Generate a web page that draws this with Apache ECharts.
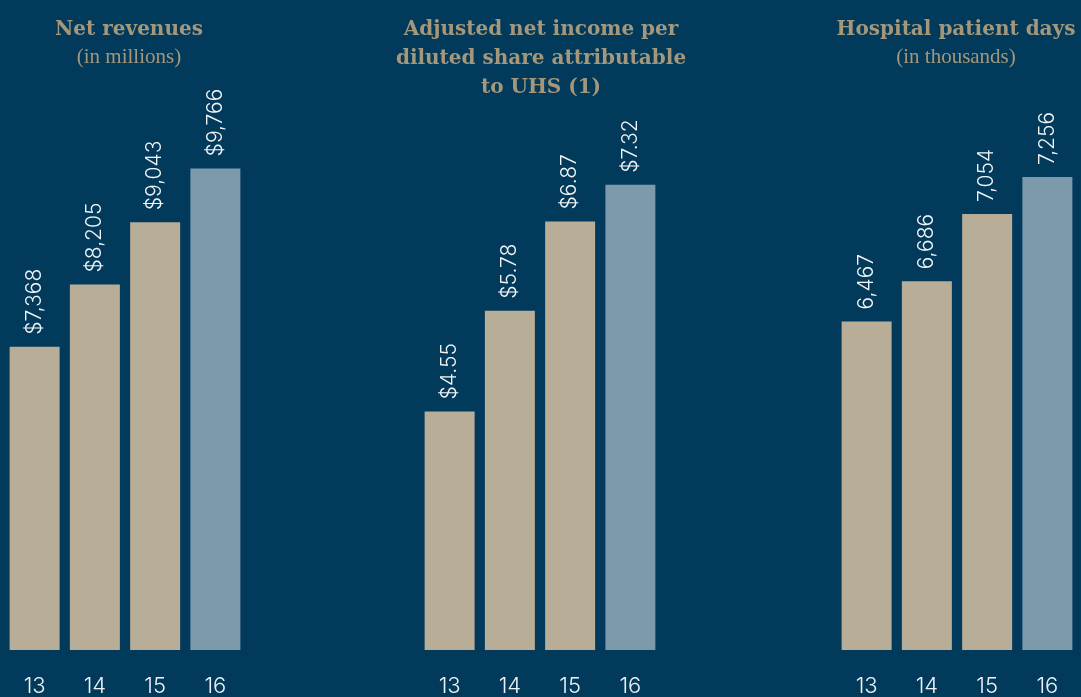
<!DOCTYPE html>
<html><head><meta charset="utf-8">
<script src="https://cdn.jsdelivr.net/npm/echarts@6/dist/echarts.min.js"></script>
<style>html,body{margin:0;padding:0;background:#023a5b;}#c{width:1081px;height:697px;}</style>
</head><body><div id="c"></div>
<script>
const years = ['13','14','15','16'];
const revenues = [7368, 8205, 9043, 9766];
const eps = [4.55, 5.78, 6.87, 7.32];
const patientDays = [6467, 6686, 7054, 7256];
const revLabels = ['$7,368','$8,205','$9,043','$9,766'];
const epsLabels = ['$4.55','$5.78','$6.87','$7.32'];
const daysLabels = ['6,467','6,686','7,054','7,256'];

const BEIGE = '#b8ad97', BLUEGREY = '#7d99ac';
const TITLE = '#a5977a';
const chart = echarts.init(document.getElementById('c'));

const panels = [
  {left: 4.5, min: 3290, max: 10672, data: revenues, labels: revLabels},
  {left: 419.5, min: 1.635, max: 8.342, data: eps, labels: epsLabels},
  {left: 836.5, min: 4672, max: 7671, data: patientDays, labels: daysLabels}
];
const grids = [], xAxes = [], yAxes = [], series = [];
panels.forEach((p, i) => {
  grids.push({left: p.left, width: 241, top: 101, height: 551});
  xAxes.push({type: 'category', gridIndex: i, data: years,
    axisLine: {show: false}, axisTick: {show: false},
    axisLabel: {color: '#eef1f4', fontFamily: 'Inter', fontWeight: 300, fontSize: 22, margin: 25}});
  yAxes.push({type: 'value', gridIndex: i, min: p.min, max: p.max, show: false, splitLine: {show: false}});
  series.push({type: 'bar', xAxisIndex: i, yAxisIndex: i, barWidth: 50,
    data: p.data.map((v, j) => ({value: v, itemStyle: {color: j === 3 ? BLUEGREY : BEIGE}})),
    label: {show: true, position: 'top', rotate: 90, align: 'left', verticalAlign: 'middle', distance: 12,
      color: '#f2f4f6', fontFamily: 'Inter', fontWeight: 300, fontSize: 21,
      formatter: (prm) => p.labels[prm.dataIndex]}
  });
});

const tStyle = {color: TITLE, fontFamily: 'DejaVu Serif', fontWeight: 'bold', fontSize: 20, lineHeight: 29};
const sStyle = {color: TITLE, fontFamily: 'Liberation Serif', fontSize: 21};
chart.setOption({
  backgroundColor: '#023a5b',
  animation: false,
  title: [
    {text: 'Net revenues', subtext: '(in millions)', left: 124, top: 10, textAlign: 'center', itemGap: 3,
      textStyle: tStyle, subtextStyle: sStyle},
    {text: 'Adjusted net income per\ndiluted share attributable\nto UHS (1)', left: 536, top: 10, textAlign: 'center',
      textStyle: tStyle},
    {text: 'Hospital patient days', subtext: '(in thousands)', left: 951, top: 10, textAlign: 'center', itemGap: 3,
      textStyle: tStyle, subtextStyle: sStyle}
  ],
  grid: grids, xAxis: xAxes, yAxis: yAxes, series: series
});
</script></body></html>
